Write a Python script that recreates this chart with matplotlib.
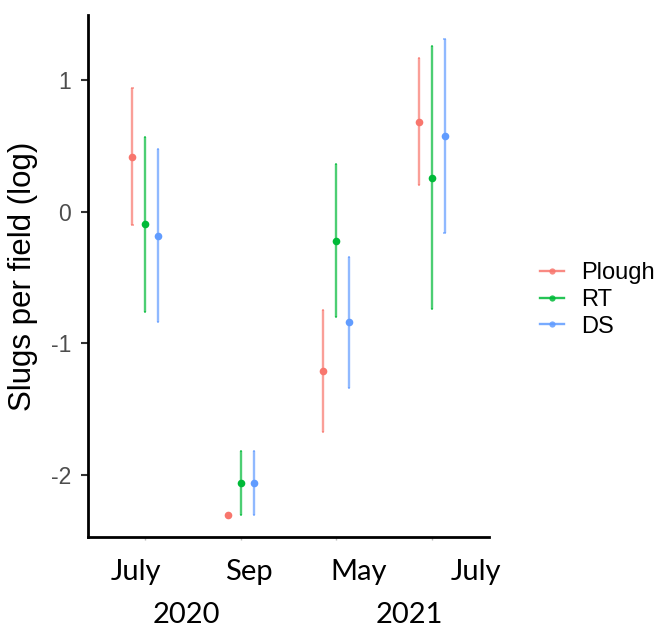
import matplotlib
matplotlib.use("Agg")
import matplotlib.pyplot as plt
import numpy as np
from matplotlib.lines import Line2D

# ---- data ----
dates = ["July 2020", "Sep 2020", "May 2021", "July 2021"]
treatments = ["Plough", "RT", "DS"]
colors = ["#F8766D", "#00BA38", "#619CFF"]

mean_plough = [0.42, -2.30, -1.21, 0.68]
low_plough = [-0.10, np.nan, -1.675, 0.20]
high_plough = [0.94, np.nan, -0.745, 1.165]

mean_rt = [-0.09, -2.06, -0.22, 0.26]
low_rt = [-0.76, -2.30, -0.80, -0.735]
high_rt = [0.57, -1.82, 0.36, 1.26]

mean_ds = [-0.18, -2.06, -0.84, 0.575]
low_ds = [-0.84, -2.30, -1.34, -0.16]
high_ds = [0.48, -1.82, -0.34, 1.31]

month_labels = ["July", "Sep", "May", "July"]
year_labels = ["2020", "2021"]

means = [mean_plough, mean_rt, mean_ds]
lows = [low_plough, low_rt, low_ds]
highs = [high_plough, high_rt, high_ds]

W, H = 664, 628
fig = plt.figure(figsize=(W / 100, H / 100), dpi=100)
ax = fig.add_axes([88 / W, 1 - 537 / H, (489 - 88) / W, (537 - 15) / H])

x = np.arange(1, len(dates) + 1)
dodge = 0.135
for i, (m, lo, hi, c) in enumerate(zip(means, lows, highs, colors)):
    xs = x + (i - 1) * dodge
    m = np.array(m); lo = np.array(lo); hi = np.array(hi)
    ok = ~np.isnan(lo)
    ax.vlines(xs[ok], lo[ok], hi[ok], color=c, lw=1.7, alpha=0.7, zorder=2)
    ax.hlines(np.concatenate([lo[ok], hi[ok]]),
              np.concatenate([xs[ok], xs[ok]]) - 0.012,
              np.concatenate([xs[ok], xs[ok]]) + 0.012,
              color=c, lw=1.2, alpha=0.7, zorder=2)
    ax.plot(xs, m, "o", color=c, ms=5.5, mec="none", zorder=3)

ax.set_xlim(0.4, 4.6)
ax.set_ylim(-2.47, 1.495)
ax.set_yticks([-2, -1, 0, 1])
ax.set_yticklabels(["-2", "-1", "0", "1"], fontsize=16.5, color="#4D4D4D",
                   family="Liberation Sans")
ax.set_xticks(x)
ax.set_xticklabels([])
ax.tick_params(axis="y", length=5, width=1.5, color="#333333", pad=7)
ax.tick_params(axis="x", length=2, width=1, color="#BBBBBB")
for s in ["top", "right"]:
    ax.spines[s].set_visible(False)
for s in ["left", "bottom"]:
    ax.spines[s].set_linewidth(2)
    ax.spines[s].set_color("black")
ax.set_ylabel("Slugs per field (log)", fontsize=22.5, family="Liberation Sans",
              labelpad=9)

# month / year labels below the axis
month_px = [135.5, 249, 359, 476]
for lab, px in zip(month_labels, month_px):
    fig.text(px / W, 1 - 572 / H, lab, ha="center", va="center",
             fontsize=21, family="Lato")
for lab, px in zip(year_labels, [186, 409]):
    fig.text(px / W, 1 - 615 / H, lab, ha="center", va="center",
             fontsize=21, family="Lato")

handles = [Line2D([0], [0], color=c, marker="o", ms=4.5, lw=1.7, mec="none")
           for c in colors]
for h in handles:
    h.set_alpha(0.85)
leg = fig.legend(handles, treatments, loc="center left",
                 bbox_to_anchor=(540 / W, 1 - 300 / H), frameon=False,
                 borderpad=0, borderaxespad=0,
                 prop={"family": "Liberation Sans", "size": 17},
                 handlelength=1.0, labelspacing=0.2, handletextpad=0.75)

fig.savefig("out.png", dpi=100)
